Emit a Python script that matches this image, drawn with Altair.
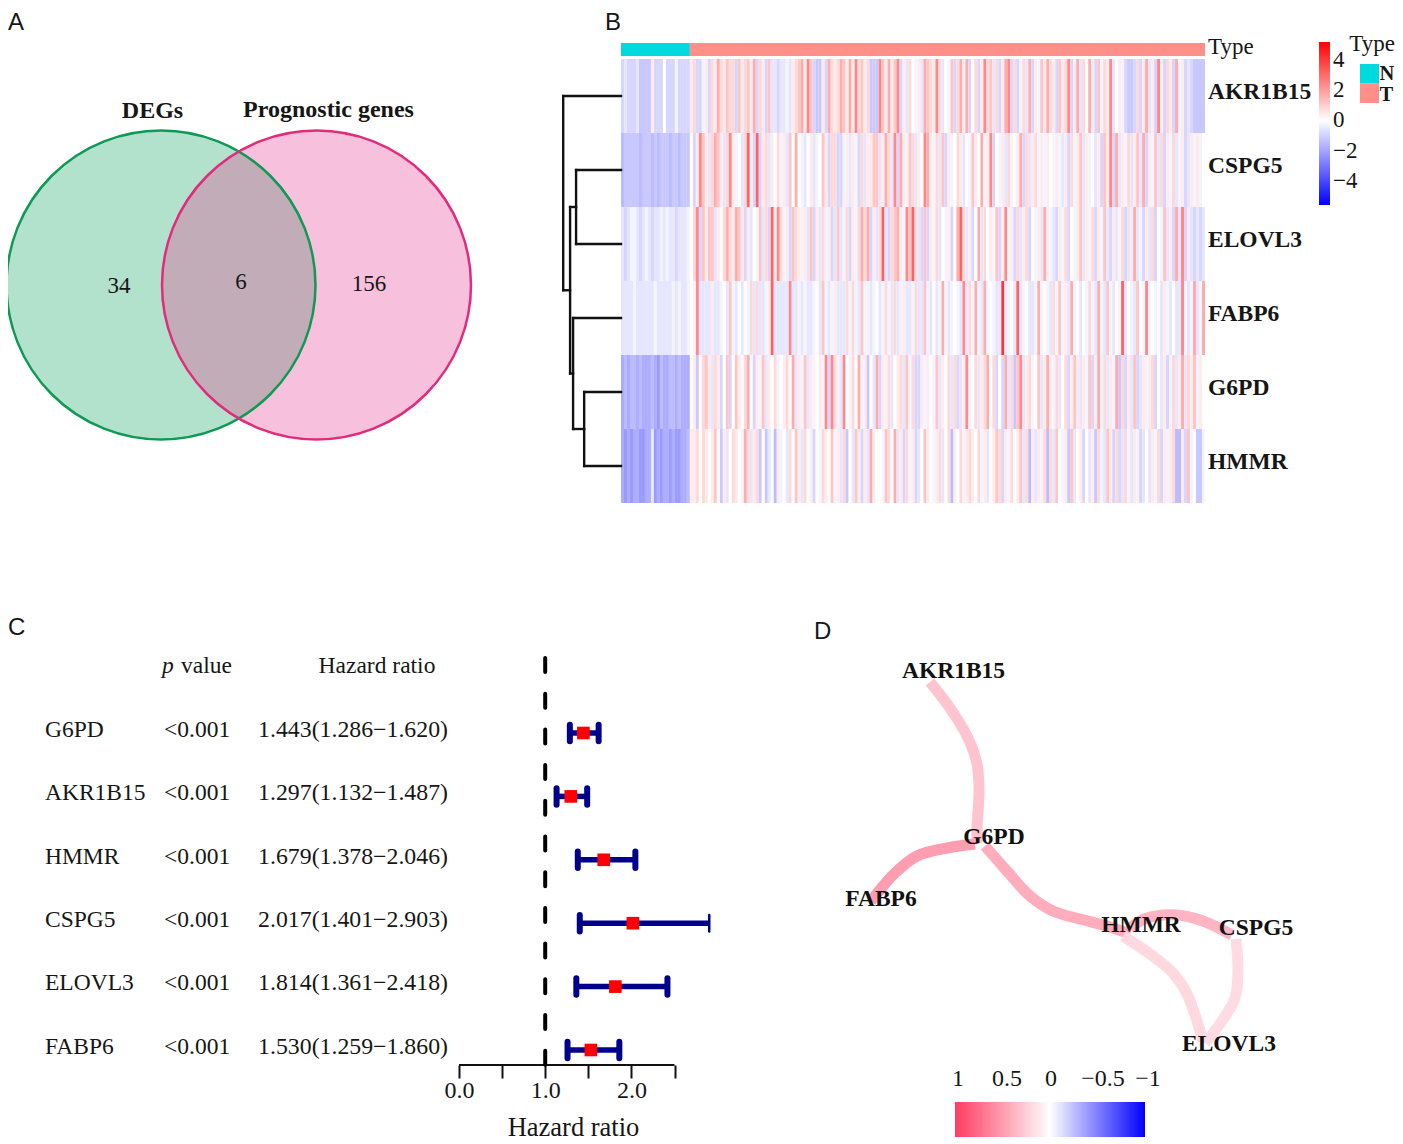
import altair as alt
import pandas as pd

SERIF = "Liberation Serif"
SANS = "Liberation Sans"
INK = "#161616"

# ---------- Panel A: Venn ----------
venn_names = ["DEGs", "Prognostic genes"]
venn_counts = ["34", "6", "156"]

# ---------- Panel B: heatmap (one character = one level per sample group) ----------
level_values = {"a": -2.2, "b": -1.8, "c": -1.5, "d": -1.2, "e": -0.9, "f": -0.55, "g": -0.25,
                "0": 0.0, "1": 0.4, "2": 0.8, "3": 1.2, "4": 1.7, "5": 2.4, "6": 3.2, "7": 4.2}
heat_genes = ["AKR1B15", "CSPG5", "ELOVL3", "FABP6", "G6PD", "HMMR"]
heat_akr1b15 = "efeeefdddd1eee0eeegeeee 12eeg1e214 21322e3123 14e21e3ffe ffgf123415 3edd1e4212 4314152312 ddd5314135 e1f20g1f43 2152f0g3e2 414e02e152 3f2e145e2e g2f4e1g314 21e3125e14 f2041e3g21 5f01gedde2 e14f1e51e2 1e4g1efedd dd"
heat_cspg5 = "cdddddcdddcdcdddcddcddd 0e1531f243 1f251g0f26 1e6e12f102 g1f3040gf0 1fg031e22e eg1f1ge2f1 133f142f5e 41g32f1054 1g2f3e1g02 1f0g3104g1 5e0g1f2g01 4e2f12g1g1 0g1gf1e2g1 3f1g0f1e31 5e4f1g2f13 f4e1g3f2e1 g2fg1ef1g1 g0"
heat_elovl3 = "fefggfefgfeffgfgffefffg 025e3133f1 02421431e1 f0g3f2e615 2g1e321g1f 3e1f2g1ef3 fg2e1g2424 e1f26fe234 1g5362fe3e 1g2f0g1e04 62f1e04f20 1g3e15g1e2 f12e0g1f41 gfe1g2e0g1 3f1g2e1g3f e1fg2ef14f ge1f2e0g3f 1e4f5e1fef ef"
heat_fabp6 = "ffffgffffffgfffffgfgffg 0g5ffff1ff g0f3gf0f0g 2f2ffg16ff fff5ffgfgf fg0f3gfg1f ff2g2gf3gg fg0fg2gf2f g1ffg2ff3g f0fg4gfg0g f5f2g4gf4g 0gff7fg0f6 fg0ffg4g0g f2g3g1f4g0 f0g2gf4gf3 gf0g6f0gf3 0g5g0g0f1g f0ff5gfg4f g4"
heat_g6pd = "bcbccbcbbbcbacbbccbcbbb 01d0231f21 e03e031024 0e1g3f102g 01204f1g3f 1g01g5e52g f50g204g1d 0f4e1g2f01 2f3g2ee1g1 0g3f102f2e f15g02f124 02e0e4f2d3 5f12g03f14 1g2f02e131 f1g3e14g2f 1g4d2e1f3e f1g12e0f1e g2f14f213g 10"
heat_hmmr = "bababbaabbfababbabaabbc 1120210130 d1f0210g42 f12d0df0c1 g0f2031f20 1e0g2103g1 f2d0f31e1f 4100g3204f 1e2g1ef031 0g12f02c10 2g12102g1f 0132e1g201 3f2c1f1g2c 2f30g1d3f0 1e0f1d2gf3 1e2ef2gf1g ef0f1g2e1g 12cc1e3g0d dg"
heat_rows = [heat_akr1b15, heat_cspg5, heat_elovl3, heat_fabp6, heat_g6pd, heat_hmmr]
n_normal = 23
n_total = 195
# dendrogram merges: (top position, bottom position, own height, top child height, bottom child height)
dendro_merges = [(1.5, 2.5, 15.0, 0.0, 0.0),
                 (4.5, 5.5, 12.3, 0.0, 0.0),
                 (3.5, 5.0, 16.0, 0.0, 12.3),
                 (2.0, 4.25, 17.0, 15.0, 16.0),
                 (0.5, 3.125, 19.3, 0.0, 17.0)]

# ---------- Panel C: forest plot ----------
forest_genes = ["G6PD", "AKR1B15", "HMMR", "CSPG5", "ELOVL3", "FABP6"]
forest_hr = [1.443, 1.297, 1.679, 2.017, 1.814, 1.530]
forest_lo = [1.286, 1.132, 1.378, 1.401, 1.361, 1.259]
forest_hi = [1.620, 1.487, 2.046, 2.903, 2.418, 1.860]
forest_p = ["<0.001"] * 6
forest_txt = ["1.443(1.286\u22121.620)", "1.297(1.132\u22121.487)", "1.679(1.378\u22122.046)",
              "2.017(1.401\u22122.903)", "1.814(1.361\u22122.418)", "1.530(1.259\u22121.860)"]

# ---------- Panel D: correlation network ----------
edge_corr = {"AKR1B15-G6PD": 0.30, "FABP6-G6PD": 0.50, "G6PD-HMMR": 0.42,
             "HMMR-CSPG5": 0.38, "HMMR-ELOVL3": 0.20, "CSPG5-ELOVL3": 0.18}
edge_paths = {
    "AKR1B15-G6PD": [(930, 681), (950, 707), (968, 737), (977, 763), (979, 790), (977, 828), (977, 842)],
    "FABP6-G6PD": [(975, 843), (947, 847), (917, 855), (895, 872), (871, 900)],
    "G6PD-HMMR": [(985, 845), (1007, 870), (1030, 895), (1053, 910), (1080, 918), (1107, 925), (1130, 933)],
    "HMMR-CSPG5": [(1130, 927), (1147, 917), (1177, 914), (1203, 920), (1232, 934)],
    "HMMR-ELOVL3": [(1123, 935), (1150, 953), (1173, 972), (1187, 993), (1197, 1020), (1203, 1040)],
    "CSPG5-ELOVL3": [(1236, 938), (1238, 970), (1235, 997), (1222, 1020), (1205, 1042)],
}
node_names = ["AKR1B15", "G6PD", "FABP6", "HMMR", "CSPG5", "ELOVL3"]
node_x = [953.5, 994, 881, 1141, 1256, 1229]
node_y = [670, 836, 898, 924, 927, 1043]
corr_ticks = ["1", "0.5", "0", "\u22120.5", "\u22121"]
corr_tick_x = [958, 1007, 1051, 1103, 1148]


def sx(domain):
    return alt.Scale(domain=domain, nice=False, zero=False)


# ===== Panel A =====
A_X, A_Y = [8, 560], [615, 8]


def ax(f="x"):
    return alt.X(f"{f}:Q", scale=sx(A_X), axis=None)


def ay(f="y"):
    return alt.Y(f"{f}:Q", scale=sx(A_Y), axis=None)


venn = pd.DataFrame({"x": [161, 316.5], "y": [285, 285], "fill": ["#009E55", "#E6308A"],
                     "line": ["#0E9A55", "#E12C7C"]})
D2 = 309 ** 2
a_layers = []
for i in range(2):
    a_layers.append(alt.Chart(venn.iloc[[i]]).mark_point(shape="circle", size=D2, fill=venn.fill[i],
                    fillOpacity=0.3, strokeWidth=0, opacity=1, clip=True).encode(x=ax(), y=ay()))
for i in range(2):
    a_layers.append(alt.Chart(venn.iloc[[i]]).mark_point(shape="circle", size=D2, filled=False,
                    stroke=venn.line[i], strokeWidth=2.5, opacity=1, clip=True).encode(x=ax(), y=ay()))
a_text = pd.DataFrame({"x": [119, 241, 369], "y": [286, 282, 284], "t": venn_counts})
a_layers.append(alt.Chart(a_text).mark_text(font=SERIF, fontSize=23, color=INK).encode(x=ax(), y=ay(), text="t:N"))
a_head = pd.DataFrame({"x": [152.5, 328.5], "y": [111, 110], "t": venn_names})
a_layers.append(alt.Chart(a_head).mark_text(font=SERIF, fontSize=24, fontWeight="bold", color=INK).encode(x=ax(), y=ay(), text="t:N"))
a_layers.append(alt.Chart(pd.DataFrame({"x": [8], "y": [11], "t": ["A"]})).mark_text(
    font=SANS, fontSize=24, align="left", baseline="top", color=INK).encode(x=ax(), y=ay(), text="t:N"))
panel_a = alt.layer(*a_layers).properties(width=552, height=607)

# ===== Panel B =====
PX_COL = 584 / n_total


def bx(px):
    return (px - 621) / PX_COL


def by(py):
    return (py - 59) / 74


B_X, B_Y = [bx(560), bx(1395)], [by(615), by(8)]


def cxb(f="x"):
    return alt.X(f"{f}:Q", scale=sx(B_X), axis=None)


def cyb(f="y"):
    return alt.Y(f"{f}:Q", scale=sx(B_Y), axis=None)


cells = []
for r, (gene, s) in enumerate(zip(heat_genes, heat_rows)):
    s = s.replace(" ", "")
    s = (s + "0" * n_total)[:n_total]
    for c, ch in enumerate(s):
        cells.append({"x": c, "x2": c + 1, "y": r, "y2": r + 1, "v": level_values[ch]})
cells = pd.DataFrame(cells)
heat = alt.Chart(cells).mark_rect(strokeWidth=0).encode(
    x=cxb(), x2="x2:Q", y=cyb(), y2="y2:Q",
    color=alt.Color("v:Q", scale=alt.Scale(domain=[-5.6, 0, 5.2], range=["#0000ff", "#ffffff", "#ff0000"],
                                           interpolate="rgb"),
                    legend=alt.Legend(orient="none", legendX=759, legendY=34, title=None, gradientLength=163,
                                      gradientThickness=11, values=[4, 2, 0, -2, -4], labelFont=SERIF,
                                      labelFontSize=23, labelColor=INK, labelOffset=3, gradientStrokeWidth=0,
                                      labelOverlap=False, labelExpr="replace(datum.label,'-','\u2212')")))
anno = pd.DataFrame({"x": [0, n_normal, bx(1360), bx(1360)], "x2": [n_normal, n_total, bx(1379), bx(1379)],
                     "y": [by(43), by(43), by(64), by(83.5)], "y2": [by(56), by(56), by(83.5), by(103)],
                     "c": ["N", "T", "N", "T"]})
anno_rect = alt.Chart(anno).mark_rect(strokeWidth=0).encode(
    x=cxb(), x2="x2:Q", y=cyb(), y2="y2:Q",
    fill=alt.Fill("c:N", scale=alt.Scale(domain=["N", "T"], range=["#00D9DE", "#FF8F88"]), legend=None))
seg = []
for t, b, h, ht, hb in dendro_merges:
    seg.append({"x": -h, "x2": -h, "y": t, "y2": b})
    seg.append({"x": -h, "x2": -ht, "y": t, "y2": t})
    seg.append({"x": -h, "x2": -hb, "y": b, "y2": b})
dendro = alt.Chart(pd.DataFrame(seg)).mark_rule(color="#111111", strokeWidth=2.4, strokeCap="square").encode(
    x=cxb(), x2="x2:Q", y=cyb(), y2="y2:Q")
b_lab = pd.DataFrame({"x": [bx(1208)] * 6, "y": [i + 0.5 - 4 / 74 for i in range(6)], "t": heat_genes})
b_labels = alt.Chart(b_lab).mark_text(font=SERIF, fontSize=23.5, fontWeight="bold", align="left", color=INK).encode(
    x=cxb(), y=cyb(), text="t:N")
b_type1 = alt.Chart(pd.DataFrame({"x": [bx(1208)], "y": [by(47)], "t": ["Type"]})).mark_text(
    font=SERIF, fontSize=23, align="left", color=INK).encode(x=cxb(), y=cyb(), text="t:N")
b_type2 = alt.Chart(pd.DataFrame({"x": [bx(1395)], "y": [by(44)], "t": ["Type"]})).mark_text(
    font=SERIF, fontSize=23, align="right", color=INK).encode(x=cxb(), y=cyb(), text="t:N")
b_nt = pd.DataFrame({"x": [bx(1379.5), bx(1379.5)], "y": [by(73.5), by(94.5)], "t": ["N", "T"]})
b_nt_t = alt.Chart(b_nt).mark_text(font=SERIF, fontSize=20.5, fontWeight="bold", align="left", color=INK).encode(
    x=cxb(), y=cyb(), text="t:N")
b_letter = alt.Chart(pd.DataFrame({"x": [bx(605)], "y": [by(11)], "t": ["B"]})).mark_text(
    font=SANS, fontSize=24, align="left", baseline="top", color=INK).encode(x=cxb(), y=cyb(), text="t:N")
panel_b = alt.layer(heat, anno_rect, dendro, b_labels, b_type1, b_type2, b_nt_t, b_letter).resolve_scale(
    color="independent", fill="independent").properties(width=835, height=607)

# ===== Panel C =====
PX_HR = 86.2
ROW = 63.4
C_X = [(8 - 459) / PX_HR, (790 - 459) / PX_HR]
C_Y = [(1064 - 732) / ROW, (615 - 732) / ROW]
C_W, C_H = 782, 449

hr_axis = alt.Axis(values=[0, 0.5, 1, 1.5, 2, 2.5], domain=False, grid=False, tickSize=13, tickWidth=2,
                   tickColor="#111111", labelFont=SERIF, labelFontSize=24, labelColor=INK, labelPadding=0,
                   labelExpr="(datum.value % 1 == 0 && datum.value < 2.5) ? format(datum.value, '.1f') : ''",
                   labelOverlap=False, labelFlush=False, title="Hazard ratio", titleFont=SERIF, titleFontSize=26.5,
                   titleFontWeight="normal", titleColor=INK, titleX=565, titleY=62, titleBaseline="middle")


def cx(f="x"):
    return alt.X(f"{f}:Q", scale=sx(C_X), axis=hr_axis)


def cy(f="y"):
    return alt.Y(f"{f}:Q", scale=sx(C_Y), axis=None)


forest = pd.DataFrame({"gene": forest_genes, "hr": forest_hr, "lo": forest_lo, "hi": forest_hi,
                       "p": forest_p, "txt": forest_txt, "y": range(6)})
forest["ya"] = forest.y - 0.13
forest["yb"] = forest.y + 0.13
forest["yt"] = forest.y - 0.05
forest["capw"] = [6, 6, 6, 2.5, 6, 6]
axis_src = pd.DataFrame({"x": [0], "x2": [2.5]})
c_axis = alt.Chart(axis_src).mark_rule(color="#111111", strokeWidth=2).encode(
    x=cx("x"), x2="x2:Q", y=alt.value(C_H))
ref = pd.DataFrame({"x": [1], "y": [(657 - 732) / ROW], "y2": [C_Y[0]]})
c_ref = alt.Chart(ref).mark_rule(color="#000000", strokeWidth=4, strokeDash=[14, 21.7], strokeCap="round").encode(
    x=cx(), y=cy(), y2="y2:Q")
c_ci = alt.Chart(forest).mark_rule(color="#00008B", strokeWidth=5.5).encode(x=cx("lo"), x2="hi:Q", y=cy())
c_cl = alt.Chart(forest).mark_rule(color="#00008B", strokeWidth=6, strokeCap="round").encode(
    x=cx("lo"), y=cy("ya"), y2="yb:Q")
c_ch = alt.Chart(forest).mark_rule(color="#00008B", strokeCap="round").encode(
    x=cx("hi"), y=cy("ya"), y2="yb:Q", strokeWidth=alt.StrokeWidth("capw:Q", scale=None))
c_pt = alt.Chart(forest).mark_point(shape="square", filled=True, size=160, color="#FF0000", opacity=1).encode(
    x=cx("hr"), y=cy())
c_g = alt.Chart(forest).mark_text(font=SERIF, fontSize=23.5, align="left", color=INK).encode(
    x=alt.value(37), y=cy("yt"), text="gene:N")
c_p = alt.Chart(forest).mark_text(font=SERIF, fontSize=23.5, align="left", color=INK).encode(
    x=alt.value(156), y=cy("yt"), text="p:N")
c_t = alt.Chart(forest).mark_text(font=SERIF, fontSize=23.8, align="right", color=INK).encode(
    x=alt.value(440), y=cy("yt"), text="txt:N")
head_y = (665 - 732) / ROW
c_h1 = alt.Chart(pd.DataFrame({"y": [head_y], "t": ["p"]})).mark_text(
    font=SERIF, fontSize=23.5, fontStyle="italic", align="left", color=INK).encode(x=alt.value(154), y=cy(), text="t:N")
c_h2 = alt.Chart(pd.DataFrame({"y": [head_y], "t": ["value"]})).mark_text(
    font=SERIF, fontSize=23.5, align="left", color=INK).encode(x=alt.value(173), y=cy(), text="t:N")
c_h3 = alt.Chart(pd.DataFrame({"y": [head_y], "t": ["Hazard ratio"]})).mark_text(
    font=SERIF, fontSize=23.5, align="center", color=INK).encode(x=alt.value(369), y=cy(), text="t:N")
c_l = alt.Chart(pd.DataFrame({"y": [(627 - 732) / ROW], "t": ["C"]})).mark_text(
    font=SANS, fontSize=24, align="left", color=INK).encode(x=alt.value(0), y=cy(), text="t:N")
panel_c = alt.layer(c_axis, c_ref, c_ci, c_cl, c_ch, c_pt, c_g, c_p, c_t, c_h1, c_h2, c_h3, c_l).properties(
    width=C_W, height=C_H)

# ===== Panel D =====
D_X, D_Y = [790, 1395], [1136, 615]


def dx(f="x"):
    return alt.X(f"{f}:Q", scale=sx(D_X), axis=None)


def dy(f="y"):
    return alt.Y(f"{f}:Q", scale=sx(D_Y), axis=None)


edges = []
for name, pts in edge_paths.items():
    for k, (x, y) in enumerate(pts):
        edges.append({"edge": name, "k": k, "x": x, "y": y, "r": edge_corr[name]})
edges = pd.DataFrame(edges)
d_edges = alt.Chart(edges).mark_line(interpolate="catmull-rom", strokeWidth=11, strokeCap="butt").encode(
    x=dx(), y=dy(), detail="edge:N", order="k:Q",
    color=alt.Color("r:Q", scale=alt.Scale(domain=[-1, 0, 1], range=["#0000ff", "#ffffff", "#ff3b62"],
                                           interpolate="rgb"), legend=None),
    size=alt.value(11))
d_nodes = alt.Chart(pd.DataFrame({"x": node_x, "y": node_y, "t": node_names})).mark_text(
    font=SERIF, fontSize=23.5, fontWeight="bold", color="#111111").encode(x=dx(), y=dy(), text="t:N")
grad = alt.LinearGradient(gradient="linear", x1=0, x2=1, y1=0, y2=0, stops=[
    alt.GradientStop(color="#ff3b62", offset=0), alt.GradientStop(color="#ffffff", offset=0.5),
    alt.GradientStop(color="#0000ff", offset=1)])
d_bar = alt.Chart(pd.DataFrame({"x": [955], "x2": [1145], "y": [1101], "y2": [1136]})).mark_rect(
    fill=grad, strokeWidth=0).encode(x=dx(), x2="x2:Q", y=dy(), y2="y2:Q")
d_ticks = alt.Chart(pd.DataFrame({"x": corr_tick_x, "y": [1077.5] * 5, "t": corr_ticks})).mark_text(
    font=SERIF, fontSize=24, color=INK).encode(x=dx(), y=dy(), text="t:N")
d_l = alt.Chart(pd.DataFrame({"x": [814], "y": [631], "t": ["D"]})).mark_text(
    font=SANS, fontSize=24, align="left", color=INK).encode(x=dx(), y=dy(), text="t:N")
panel_d = alt.layer(d_edges, d_bar, d_nodes, d_ticks, d_l).properties(width=605, height=521)

chart = alt.vconcat(alt.hconcat(panel_a, panel_b, spacing=0),
                    alt.hconcat(panel_c, panel_d, spacing=0),
                    spacing=0).properties(padding=0, background="white").configure_view(stroke=None)

chart.save("out.html", embed_options={"renderer": "svg", "actions": False})
